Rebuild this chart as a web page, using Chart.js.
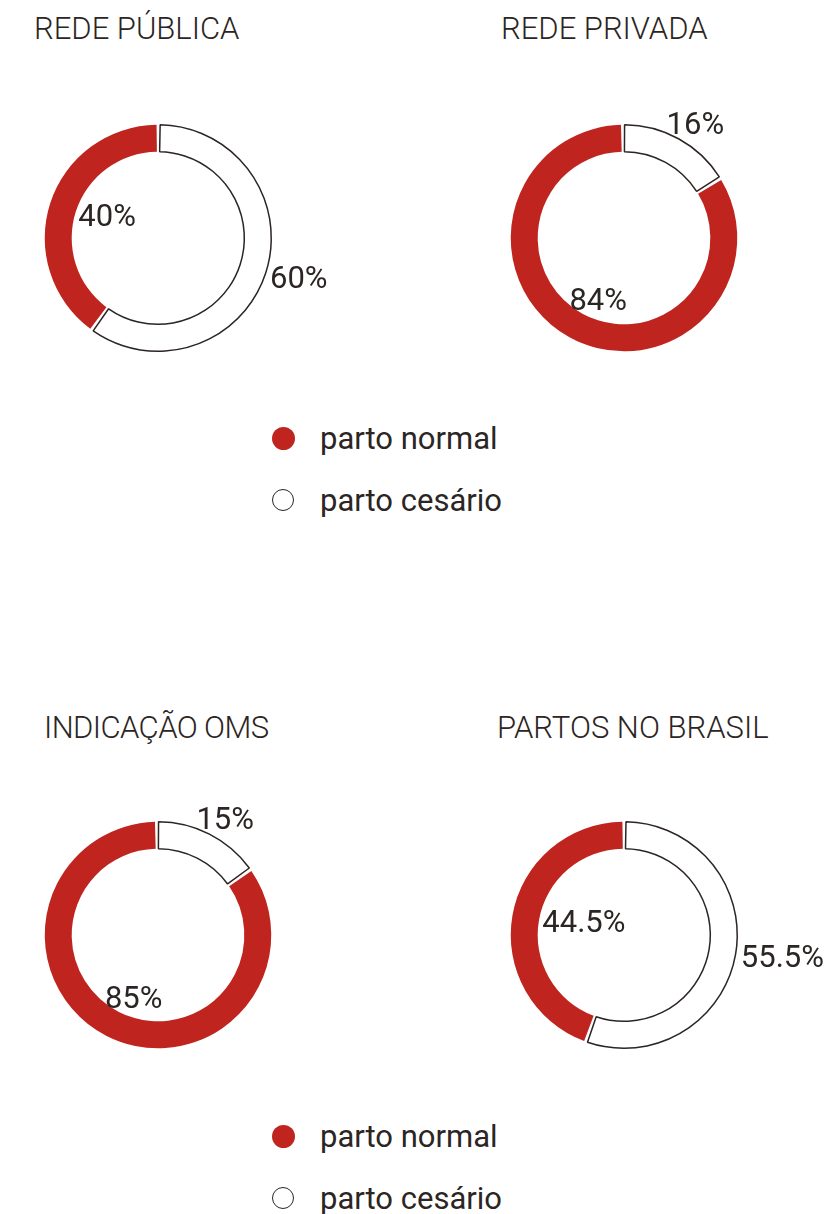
<!DOCTYPE html>
<html>
<head>
<meta charset="utf-8">
<script src="https://cdn.jsdelivr.net/npm/chart.js@4"></script>
<style>
  html, body { margin: 0; padding: 0; background: #fff; }
  #page { position: relative; width: 839px; height: 1214px; overflow: hidden; font-family: Roboto, sans-serif; color: #2b2523; }
  .title { position: absolute; font-size: 31px; line-height: 31px; font-weight: 300; white-space: nowrap; }
  canvas { position: absolute; }
  .legend { position: absolute; left: 0; width: 839px; }
  .legend-row { position: absolute; left: 272px; height: 30px; display: flex; align-items: center; font-size: 31px; white-space: nowrap; }
  .dot { width: 23px; height: 23px; border-radius: 50%; box-sizing: border-box; margin-right: 25px; }
</style>
</head>
<body>
<div id="page">
  <div class="title" id="t0" style="left:34px; top:13px"></div>
  <div class="title" id="t1" style="left:501px; top:13px"></div>
  <div class="title" id="t2" style="left:44px; top:712px; letter-spacing:-0.6px"></div>
  <div class="title" id="t3" style="left:497px; top:712px"></div>

  <canvas id="c0" width="420" height="300" style="left:0; top:88px"></canvas>
  <canvas id="c1" width="419" height="300" style="left:420px; top:88px"></canvas>
  <canvas id="c2" width="420" height="300" style="left:0; top:785px"></canvas>
  <canvas id="c3" width="419" height="300" style="left:420px; top:785px"></canvas>

  <div class="legend" id="legend0" style="top:423px"></div>
  <div class="legend" id="legend1" style="top:1121px"></div>
</div>
<script>
// DOUGHNUTS - parto normal x parto cesário

const chartTitles = ["REDE PÚBLICA", "REDE PRIVADA", "INDICAÇÃO OMS", "PARTOS NO BRASIL"];
const categories = ["parto normal", "parto cesário"];
const partoNormal = [40, 84, 85, 44.5];
const partoCesario = [60, 16, 15, 55.5];

const red = "#c0241f";
const ink = "#2b2523";

// label goes inside the ring for the red slice, outside for the white one
const pctLabels = {
	id: "pctLabels",
	afterDatasetsDraw(chart) {
		const ctx = chart.ctx;
		const meta = chart.getDatasetMeta(0);
		const values = chart.data.datasets[0].data;
		const outside = chart.data.datasets[0].labelOutside;
		ctx.save();
		ctx.font = "400 31px Roboto";
		ctx.fillStyle = ink;
		ctx.textAlign = "center";
		ctx.textBaseline = "middle";
		meta.data.forEach(function (arc, i) {
			const p = arc.getProps(["x", "y", "startAngle", "endAngle", "innerRadius", "outerRadius"], true);
			const mid = (p.startAngle + p.endAngle) / 2;
			const dx = Math.cos(mid);
			const dy = Math.sin(mid);
			const text = values[i] + "%";
			const w = ctx.measureText(text).width;
			const h = 22;
			let x, y;
			if (outside[i]) {
				x = p.x + dx * (p.outerRadius + 7) + dx * w / 2;
				y = p.y + dy * (p.outerRadius + 7) + dy * h / 2;
			} else {
				x = p.x + dx * (p.innerRadius - 3) - dx * w / 2;
				y = p.y + dy * (p.innerRadius - 3) - dy * h / 2;
			}
			ctx.fillText(text, x, y + 2);
		});
		ctx.restore();
	},
};

const paddings = [
	{ left: 44, right: 148, top: 36, bottom: 36 },
	{ left: 90, right: 101, top: 36, bottom: 36 },
	{ left: 44, right: 148, top: 36, bottom: 36 },
	{ left: 90, right: 101, top: 36, bottom: 36 },
];

chartTitles.forEach(function (title, i) {
	document.getElementById("t" + i).textContent = title;

	// cesário first so it runs clockwise from the top, normal closes the ring
	new Chart(document.getElementById("c" + i), {
		type: "doughnut",
		data: {
			labels: [categories[1], categories[0]],
			datasets: [
				{
					data: [partoCesario[i], partoNormal[i]],
					backgroundColor: ["#ffffff", red],
					borderColor: [ink, red],
					borderWidth: [1.5, 0],
					spacing: 2,
					labelOutside: [true, false],
				},
			],
		},
		options: {
			responsive: false,
			animation: false,
			events: [],
			cutout: "76%",
			layout: { padding: paddings[i] },
			plugins: {
				legend: { display: false },
				tooltip: { enabled: false },
			},
		},
		plugins: [pctLabels],
	});
});

// legends
["legend0", "legend1"].forEach(function (id) {
	const box = document.getElementById(id);
	categories.forEach(function (name, k) {
		const row = document.createElement("div");
		row.className = "legend-row";
		row.style.top = k * 62 + "px";
		const dot = document.createElement("span");
		dot.className = "dot";
		if (k === 0) {
			dot.style.background = red;
		} else {
			dot.style.background = "#fff";
			dot.style.border = "1.5px solid " + ink;
			dot.style.width = "22px";
			dot.style.height = "22px";
			dot.style.marginRight = "26px";
		}
		const label = document.createElement("span");
		label.textContent = name;
		row.appendChild(dot);
		row.appendChild(label);
		box.appendChild(row);
	});
});
</script>
</body>
</html>
